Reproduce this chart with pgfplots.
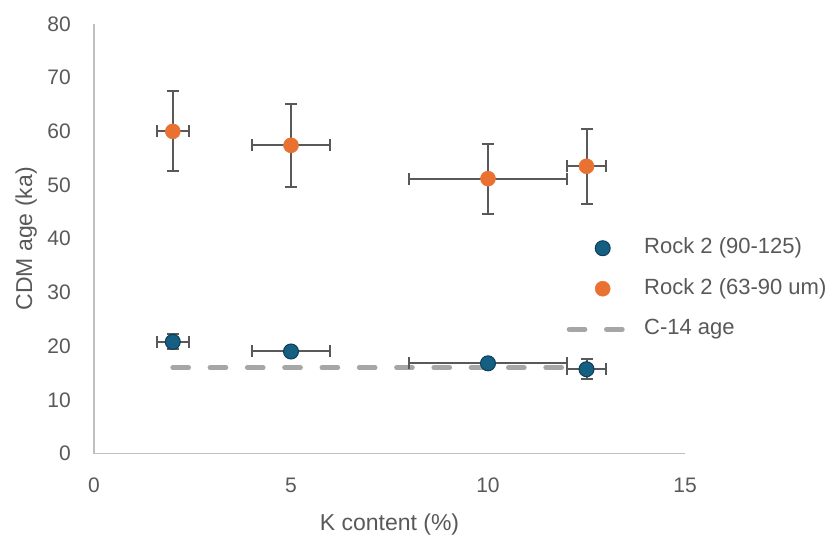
\documentclass[border=0pt]{standalone}
\usepackage{pgfplots}
\pgfplotsset{compat=1.18}
\usepackage{fontspec}
\setmainfont{Liberation Sans}

\definecolor{rockblue}{HTML}{156082}
\definecolor{rockblueedge}{HTML}{0E3D55}
\definecolor{rockorange}{HTML}{E97132}
\definecolor{cgray}{HTML}{A6A6A6}
\definecolor{barcol}{HTML}{595959}
\definecolor{txt}{HTML}{595959}
\definecolor{axcol}{HTML}{BFBFBF}

\pgfplotsset{
  markimg/.style={legend image code/.code={\path (0pt,0pt) (75pt,0pt);
    \draw[##1,mark repeat=2,mark phase=2] plot coordinates {(0pt,0pt) (36pt,0pt) (72pt,0pt)};}},
  lineimg/.style={legend image code/.code={\path (0pt,0pt) (75pt,0pt);
    \draw[##1] (2.5pt,0pt) -- (58pt,0pt);}},
  errs/.style={error bars/.cd, x dir=both, x explicit, y dir=both, y explicit,
    error bar style={barcol, line width=2pt},
    error mark options={barcol, line width=2pt, mark size=6pt, rotate=90}},
}

\pgfplotstableread{
x    y     ex    ey
2    20.8  0.41  1.4
5    19.0  1.0   0.8
10   16.8  2.0   0.8
12.5 15.7  0.5   1.9
}\fine

\pgfplotstableread{
x    y     ex    ey
2    60.0  0.41  7.45
5    57.4  1.0   7.7
10   51.2  2.0   6.5
12.5 53.5  0.5   7.0
}\coarse

\begin{document}
\begin{tikzpicture}
\useasboundingbox (-94pt,-82.5pt) rectangle (733pt,453.5pt);
\begin{axis}[
  scale only axis, width=591pt, height=429.5pt,
  xmin=0, xmax=15, ymin=0, ymax=80,
  xtick={0,5,10,15}, ytick={0,10,...,80},
  axis lines*=left,
  axis line style={draw=axcol, line width=1.3pt},
  major tick length=0pt,
  /pgf/number format/assume math mode=true,
  tick label style={font=\fontsize{21}{25}\selectfont, text=txt, inner sep=0pt},
  xticklabel shift=24pt, yticklabel shift=23pt,
  label style={font=\fontsize{23}{27}\selectfont, text=txt, inner sep=0pt},
  xlabel={K content (\%)},
  ylabel={CDM age (ka)},
  xlabel style={at={(axis description cs:0.5,-0.1793)}, anchor=base},
  ylabel style={at={(axis description cs:-0.1049,0.5)}, anchor=base, rotate=0},
  legend style={at={(axis description cs:0.7953,0.5017)}, anchor=north west,
    draw=none, fill=none, inner sep=0pt, row sep=20.5pt, column sep=0pt,
    font=\fontsize{22}{26}\selectfont, text=txt,
    nodes={inner sep=0pt, anchor=west, text height=15.5pt, text depth=4.5pt}},
  legend cell align=left,
  clip=false,
]
\addplot[cgray, line width=5pt, dash pattern=on 15.7pt off 21.6pt, line cap=round, forget plot]
  coordinates {(2,16) (12,16)};

\addplot[only marks, mark=*, mark size=7.5pt,
  mark options={fill=rockblue, draw=rockblueedge, line width=1pt},
  markimg, errs]
  table[x=x, y=y, x error=ex, y error=ey] {\fine};
\addlegendentry{Rock 2 (90-125)}

\addplot[only marks, mark=*, mark size=7.5pt,
  mark options={fill=rockorange, draw=rockorange, line width=0.5pt},
  markimg, errs]
  table[x=x, y=y, x error=ex, y error=ey] {\coarse};
\addlegendentry{Rock 2 (63-90 um)}

\addlegendimage{cgray, line width=5pt, dash pattern=on 15.7pt off 21.6pt, line cap=round, lineimg}
\addlegendentry{C-14 age}
\end{axis}
\end{tikzpicture}
\end{document}
